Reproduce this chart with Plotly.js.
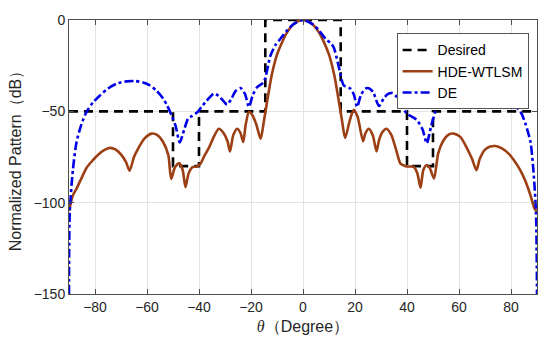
<!DOCTYPE html>
<html>
<head>
<meta charset="utf-8">
<script src="https://cdn.plot.ly/plotly-3.0.1.min.js"></script>
<style>html,body{margin:0;padding:0;background:#fff;}#chart{width:550px;height:348px;}</style>
</head>
<body>
<div id="chart"></div>
<script>
// Desired mask
const desiredX = [-90, -50, -50, -40, -40, -14.5, -14.5, 14.5, 14.5, 40, 40, 50, 50, 90];
const desiredY = [-50, -50, -80, -80, -50, -50, 0, 0, -50, -50, -80, -80, -50, -50];

// HDE-WTLSM pattern
const hdeX = [-90, -88.5, -87, -85, -83.3, -81, -79, -76.5, -74.3, -72, -69.8, -68, -66.7, -65, -63.4, -61, -58.3, -56, -53.8, -51.8, -50.7, -49.2, -47.6, -46.3, -45.2, -44, -42.5, -41, -39.4, -37.8, -36.2, -34.5, -32.4, -30.5, -29, -28.1, -26.8, -25.3, -24, -23, -22, -20.8, -19.5, -18, -16.3, -15, -13.5, -12, -10, -8, -6, -4, -2, 0,
  2, 4, 6, 8, 10, 12, 13.5, 15, 16.2, 18, 19.5, 21, 23.1, 24, 25.3, 26.8, 28.3, 29.2, 30.5, 32.1, 34, 36, 37.5, 39.5, 41, 42.6, 44, 45.2, 46.3, 47.5, 48.6, 50.4, 52, 54, 56, 58, 60.5, 63, 65, 66.7, 68, 70, 72, 74, 76.5, 79, 81, 83.5, 85.5, 87.5, 89, 90];
const hdeY = [-104.5, -96, -92, -86, -81, -77, -74, -71.3, -70, -71, -74, -78, -82.5, -75, -70.4, -65, -62.2, -63, -66.8, -74, -87, -80.5, -78.5, -82, -91.5, -84, -80.5, -80.3, -78.6, -74, -70, -64.5, -59.5, -62, -66.5, -72, -63, -59.5, -62, -66.8, -57, -50.4, -52, -57, -65, -55, -42, -30, -19, -12, -6.5, -2.8, -0.7, 0,
  -0.7, -2.8, -6.5, -12, -19, -30, -42, -55, -64.6, -55, -49.2, -53, -66.4, -62, -59.5, -63, -71.9, -66, -61.5, -59.5, -63, -72, -78.6, -80, -80.2, -80.4, -84, -91.8, -82, -79.5, -80.5, -86.8, -73, -66, -62.8, -62.2, -64, -70, -76, -82.2, -76, -71, -69.3, -69, -70.3, -73, -76.5, -82, -88, -96, -103, -105];

// DE pattern
const deX = [-90, -89.7, -88.5, -87.1, -85.2, -83.3, -80.7, -78.1, -75, -71.7, -68, -64.7, -61.5, -58.9, -56.3, -53.8, -52.2, -50.6, -49, -47.4, -45.7, -44.2, -42.6, -40.5, -39, -37.5, -35.8, -34.3, -32.5, -30.5, -29.2, -27.5, -26, -24, -22.3, -20.8, -19.3, -17.6, -15.1, -12.5, -10.5, -8.7, -6, -3.5, 0,
  3.5, 6, 8.7, 10.5, 11.8, 13.5, 15.7, 18.3, 19.6, 20.8, 22.3, 24, 25.3, 27, 29.2, 31, 32.6, 34.3, 36, 38, 40, 42, 43.9, 46, 47.6, 49.3, 51, 52.9, 55.5, 58, 61.5, 65, 68, 71.7, 75, 77.2, 80.5, 83.7, 85.6, 87.5, 88.6, 89.6, 90];
const deY = [-150, -105, -82, -66.8, -57, -50.4, -45, -41.3, -37.5, -34.9, -33.6, -33.4, -34.2, -35.8, -38.8, -43, -47, -52, -58, -67, -60, -54, -52.5, -50.3, -47.5, -44.9, -42.2, -40.3, -41.5, -44.5, -46.3, -43, -39, -37.3, -40.5, -47.6, -41, -36.7, -34, -19.4, -13.5, -10.3, -5.5, -2.1, 0,
  -2.1, -5.5, -10.3, -12.5, -14.9, -24, -35.8, -37.6, -41, -47.6, -41, -37.6, -37.3, -39.5, -47.1, -43, -40.6, -40, -42, -47, -51.3, -53, -54.9, -60, -67.5, -58, -50, -44.9, -39, -34, -33.4, -33.4, -34.4, -36.2, -39.5, -41.3, -45.5, -50.4, -57, -66.8, -82, -105, -150];

const brown = '#9C3F14';
const blue = '#0000E6';

const traces = [
  {x: desiredX, y: desiredY, name: 'Desired', mode: 'lines',
   line: {color: '#000000', width: 2.6, dash: '9px,6px'}},
  {x: hdeX, y: hdeY, name: 'HDE-WTLSM', mode: 'lines',
   line: {color: brown, width: 2.6, shape: 'spline', smoothing: 0.7}},
  {x: deX, y: deY, name: 'DE', mode: 'lines',
   line: {color: blue, width: 2.6, dash: 'dashdot', shape: 'spline', smoothing: 0.7}}
];

const axisCommon = {
  showgrid: true, gridcolor: '#E3E3E3', gridwidth: 1,
  showline: true, linecolor: '#4D4D4D', linewidth: 1, mirror: 'ticks',
  ticks: 'inside', ticklen: 5, tickcolor: '#4D4D4D',
  zeroline: false,
  tickfont: {family: 'Liberation Sans, Arial, sans-serif', size: 14, color: '#262626'}
};

const layout = {
  width: 550, height: 348,
  margin: {l: 69, r: 13, t: 19.5, b: 54},
  paper_bgcolor: '#ffffff', plot_bgcolor: '#ffffff',
  showlegend: true,
  xaxis: Object.assign({}, axisCommon, {
    range: [-90, 90], tickvals: [-80, -60, -40, -20, 0, 20, 40, 60, 80],
    title: {text: "<i style=\"font-family:'Liberation Serif','Times New Roman',serif\">θ</i>（Degree）",
            font: {family: 'Liberation Sans, Arial, sans-serif', size: 16, color: '#262626'}, standoff: 7}
  }),
  yaxis: Object.assign({}, axisCommon, {
    range: [-150, 0], tickvals: [0, -50, -100, -150],
    title: {text: 'Normalized Pattern（dB）',
            font: {family: 'Liberation Sans, Arial, sans-serif', size: 16, color: '#262626'}, standoff: 8}
  }),
  legend: {
    x: 0.70, y: 0.951, xanchor: 'left', yanchor: 'top',
    bgcolor: '#ffffff', bordercolor: '#555555', borderwidth: 1,
    font: {family: 'Liberation Sans, Arial, sans-serif', size: 14, color: '#000000'},
    tracegroupgap: 0, itemwidth: 30
  }
};

Plotly.newPlot('chart', traces, layout, {displayModeBar: false, staticPlot: true});
</script>
</body>
</html>
